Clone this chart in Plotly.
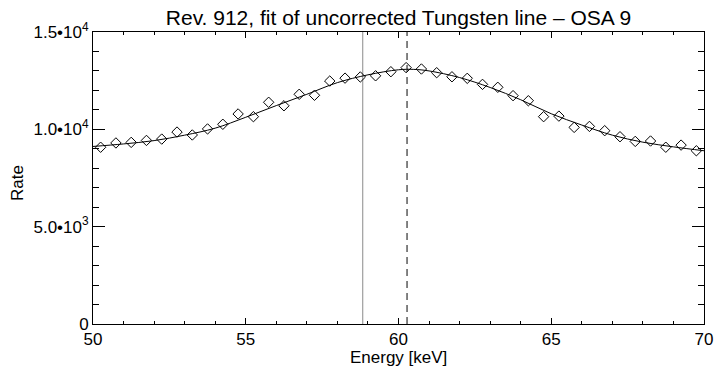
import plotly.graph_objects as go

# Measured data points (energy in keV, rate)
energy = [50.25 + 0.5 * i for i in range(40)]
rate = [9080, 9300, 9330, 9430, 9500, 9860, 9710, 10020, 10260, 10790,
        10650, 11390, 11210, 11800, 11750, 12480, 12630, 12690, 12750, 12960,
        13170, 13100, 12910, 12700, 12620, 12310, 12160, 11730, 11470, 10650,
        10680, 10100, 10150, 9930, 9620, 9380, 9400, 9080, 9190, 8900]

# Fitted curve
fit_energy = [50, 51, 52, 53, 54, 55, 56, 57, 58, 59, 60, 60.5, 61, 62, 63, 64, 65, 66, 67, 68, 69, 70]
fit_rate = [9120, 9250, 9420, 9700, 10060, 10620, 11220, 11800, 12400, 12800, 13060, 13080, 13000,
            12660, 12150, 11520, 10800, 10220, 9700, 9340, 9100, 8900]

# Vertical reference lines
line_solid = 58.83
line_dashed = 60.28

ytick_vals = [0, 5000, 10000, 15000]
ytick_text = ["0", "5.0•10<sup>3</sup>", "1.0•10<sup>4</sup>", "1.5•10<sup>4</sup>"]
xtick_vals = [50, 55, 60, 65, 70]

font = "Liberation Sans, Arial, Helvetica, sans-serif"

fig = go.Figure()
fig.add_trace(go.Scatter(x=[line_solid, line_solid], y=[0, 15000], mode="lines",
                         line=dict(color="#8a8a8a", width=1), showlegend=False, hoverinfo="skip"))
fig.add_trace(go.Scatter(x=[line_dashed, line_dashed], y=[0, 15000], mode="lines",
                         line=dict(color="#5a5a5a", width=1.5, dash="7px,5px"), showlegend=False,
                         hoverinfo="skip"))
fig.add_trace(go.Scatter(x=fit_energy, y=fit_rate, mode="lines",
                         line=dict(color="black", width=1, shape="spline", smoothing=1.0),
                         showlegend=False))
fig.add_trace(go.Scatter(x=energy, y=rate, mode="markers",
                         marker=dict(symbol="diamond-open", size=8, color="black",
                                     line=dict(color="black", width=1)),
                         showlegend=False))

fig.update_layout(
    width=724, height=372,
    margin=dict(l=93, r=11, t=32, b=48),
    paper_bgcolor="white", plot_bgcolor="white",
    font=dict(family=font, size=17, color="black"),
    title=dict(text="Rev. 912, fit of uncorrected Tungsten line – OSA 9",
               xref="paper", x=0.5, xanchor="center", y=0.953, yanchor="middle",
               font=dict(size=21, family=font, color="black")),
    xaxis=dict(range=[50, 70], tickvals=xtick_vals, ticks="inside", ticklen=6,
               tickcolor="black", showline=True, linecolor="black", linewidth=1,
               mirror="ticks", showgrid=False, zeroline=False,
               minor=dict(dtick=1, ticks="inside", ticklen=3, tickcolor="black", showgrid=False),
               tickfont=dict(size=17)),
    yaxis=dict(range=[0, 15000], tickvals=ytick_vals, ticktext=ytick_text, ticks="inside",
               ticklen=12, tickcolor="black", showline=True, linecolor="black", linewidth=1,
               mirror="ticks", showgrid=False, zeroline=False,
               minor=dict(dtick=1000, ticks="inside", ticklen=6, tickcolor="black", showgrid=False),
               tickfont=dict(size=17)),
    annotations=[
        dict(text="Energy [keV]", xref="paper", yref="paper", x=0.5, y=-0.116,
             xanchor="center", yanchor="middle", showarrow=False, font=dict(size=17)),
        dict(text="Rate", xref="paper", yref="paper", x=-0.1226, y=0.483, textangle=-90,
             xanchor="center", yanchor="middle", showarrow=False, font=dict(size=17)),
    ],
)

fig.write_html("out.html")
